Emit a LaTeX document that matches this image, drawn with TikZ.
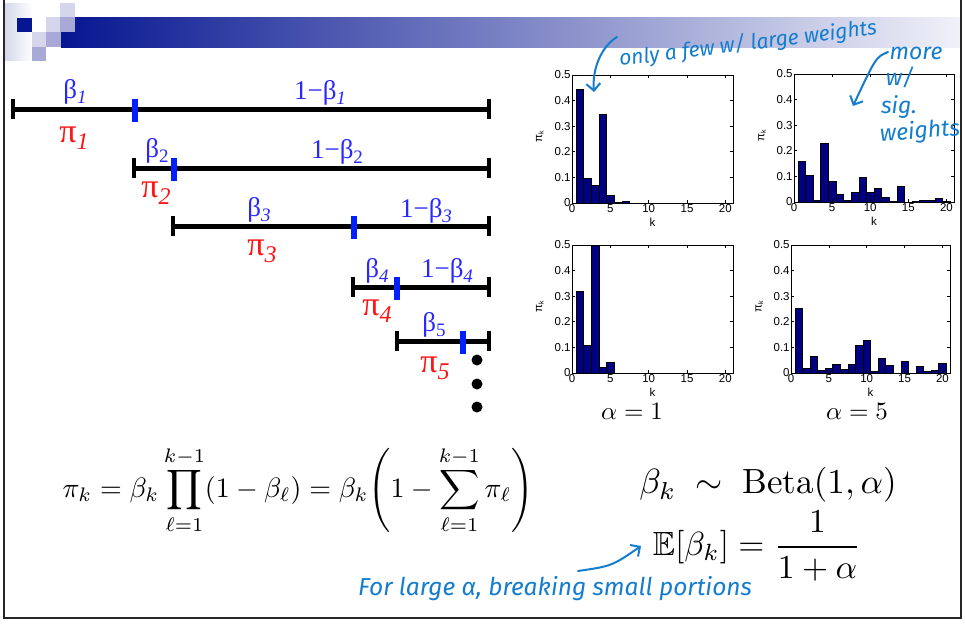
\documentclass[tikz,border=0pt]{standalone}
\usepackage{amsmath,amssymb}
\usepackage{fontspec}
\usetikzlibrary{arrows.meta}
\newfontfamily\tms{Liberation Serif}
\newfontfamily\hlv{Liberation Sans}
\newfontfamily\hand{Fira Sans}
\definecolor{hnavy}{RGB}{6,22,144}
\definecolor{hlight}{RGB}{213,214,235}
\definecolor{hmed}{RGB}{168,169,214}
\definecolor{barnavy}{RGB}{0,0,128}
\definecolor{stickblue}{RGB}{0,32,255}
\definecolor{txtblue}{RGB}{40,40,255}
\definecolor{txtred}{RGB}{255,20,20}
\definecolor{ink}{RGB}{20,125,205}
\newcommand{\gs}[3]{#1\raisebox{-0.22em}{\fontsize{#3}{#3}\selectfont #2}}
\newcommand{\bl}[1]{\gs{β}{#1}{19}}
\newcommand{\pl}[1]{\gs{π}{\itshape #1}{24}}
\newcommand{\hist}[4]{%
\begin{scope}[xshift=#1pt,yshift=-#2pt,x=#3pt,y=256pt]
  \foreach \k/\v in {#4} {\fill[barnavy] ({\k-0.5},0) rectangle ({\k+0.5},\v);
     \draw[baredge] ({\k-0.5},0) rectangle ({\k+0.5},\v);}
  \draw[axisline] (0,0) rectangle (21,0.5);
  \foreach \v in {0.1,0.2,0.3,0.4} {\draw[axisline] (0,\v) -- ++(3pt,0pt); \draw[axisline] (21,\v) -- ++(-3pt,0pt);}
  \foreach \v in {5,10,15,20} {\draw[axisline] (\v,0) -- ++(0pt,3pt); \draw[axisline] (\v,0.5) -- ++(0pt,-3pt);}
  \foreach \v in {0,0.1,0.2,0.3,0.4,0.5} {\node[ticklab,anchor=east] at (0,\v) {\v};}
  \foreach \v in {0,5,10,15,20} {\node[ticklab,anchor=north] at (\v,0) {\v};}
  \node[ticklab] at (10.5,0) [yshift=-19pt] {k};
  \node[ticklab,rotate=90] at (-4.2,0.26) {π\raisebox{-1.5pt}{\fontsize{7}{7}\selectfont k}};
\end{scope}}
\begin{document}
\begin{tikzpicture}[x=1pt,y=-1pt,
  baredge/.style={draw=black,line width=0.5pt},
  axisline/.style={draw=black,line width=0.7pt},
  ticklab/.style={font=\hlv\fontsize{11.5}{11.5}\selectfont,inner sep=1.2pt},
  stick/.style={line width=5pt,black},
  endcap/.style={line width=4.5pt,black},
  brk/.style={line width=5.5pt,stickblue},
  blab/.style={font=\tms\fontsize{27}{30}\selectfont,text=txtblue,anchor=base,inner sep=0pt},
  plab/.style={font=\tms\fontsize{34}{36}\selectfont,text=txtred,anchor=base,inner sep=0pt},
  dot/.style={circle,fill=black,inner sep=0pt,minimum size=11pt},
  hand/.style={font=\hand\itshape\fontsize{21}{23}\selectfont,text=ink,inner sep=0pt},
  handbig/.style={hand,font=\hand\itshape\fontsize{23}{25}\selectfont},
  inkarrow/.style={draw=ink,line width=2pt,line cap=round,-{Straight Barb[length=7pt,width=14pt,line width=2pt]}},
  frameline/.style={draw=black!85,line width=1.3pt}]
\useasboundingbox (0,0) rectangle (965,624);
\fill[white] (0,0) rectangle (965,624);
% header
\shade[left color=hlight,right color=white] (4,3) rectangle (33,60);
\shade[left color=hnavy,right color=white!94!hnavy] (61,17) rectangle (960,47);
\fill[hnavy] (17,18) rectangle (32,32);
\fill[hlight] (60,3) rectangle (75,17);
\fill[hlight] (46,17) rectangle (60,32);
\fill[hmed] (60,17) rectangle (75,32);
\fill[hlight] (32,32) rectangle (46,47);
\fill[hmed] (46,32) rectangle (61,47);
\fill[hmed] (32,47) rectangle (46,61);
\draw[frameline] (4,0) -- (4,618) -- (961,618) -- (961,0);
% sticks
\foreach \n/\a/\m/\y in {1/13/135/109,2/134/174/168,3/173/354/226,4/353/397/287,5/397/463/341}{
  \coordinate (sa\n) at (\a,\y);
  \coordinate (sb\n) at (489,\y);
  \coordinate (sm\n) at (\m,\y);
  \draw[stick] (sa\n) -- (sb\n);
  \draw[endcap] ([yshift=10pt]sa\n) -- ([yshift=-10pt]sa\n);
  \draw[endcap] ([yshift=10pt]sb\n) -- ([yshift=-10pt]sb\n);
  \draw[brk] ([yshift=10pt]sm\n) -- ([yshift=-13pt]sm\n);
}
\node[blab] (b1) at (75,98) {\bl{\itshape 1}};
\node[blab] (c1) at (320,99) {1−\bl{\itshape 1}};
\node[plab] (p1) at (74,142) {\pl{1}};
\node[blab] (b2) at (157,157) {\bl{2}};
\node[blab] (c2) at (337,158) {1−\bl{2}};
\node[plab] (p2) at (156,197) {\pl{2}};
\node[blab] (b3) at (259,216) {\bl{\itshape 3}};
\node[blab] (c3) at (426,217) {1−\bl{\itshape 3}};
\node[plab] (p3) at (262,255) {\pl{3}};
\node[blab] (b4) at (377,277) {\bl{\itshape 4}};
\node[blab] (c4) at (447,277) {1−\bl{\itshape 4}};
\node[plab] (p4) at (377,315) {\pl{4}};
\node[blab] (b5) at (434,331) {\bl{5}};
\node[plab] (p5) at (435,372) {\pl{5}};
\node[dot] (d1) at (477,360) {};
\node[dot] (d2) at (477,384) {};
\node[dot] (d3) at (477,407) {};
% histograms
\hist{572}{203}{7.667}{1/0.445,2/0.097,3/0.068,4/0.345,5/0.03,6/0.002,7/0.005}
\hist{794}{202}{7.62}{1/0.16,2/0.105,3/0.008,4/0.23,5/0.08,6/0.03,7/0.008,8/0.037,9/0.097,10/0.037,11/0.055,12/0.02,13/0.003,14/0.062,16/0.002,17/0.008,18/0.008,19/0.013,20/0.002}
\hist{572}{373}{7.667}{1/0.32,2/0.107,3/0.5,4/0.022,5/0.043}
\hist{791}{373}{7.57}{1/0.253,2/0.017,3/0.065,4/0.01,5/0.018,6/0.035,7/0.013,8/0.035,9/0.107,10/0.128,11/0.005,12/0.057,13/0.032,15/0.047,17/0.025,18/0.005,19/0.01,20/0.04}
\node[scale=2.5] (a1) at (632,411) {$\alpha = 1$};
\node[scale=2.5] (a5) at (857,411) {$\alpha = 5$};
% formulas
\node[scale=2.8] (pieq) at (298,490) {$\displaystyle \pi_k = \beta_k \prod_{\ell=1}^{k-1}(1-\beta_\ell) = \beta_k\!\left(1-\sum_{\ell=1}^{k-1}\pi_\ell\right)$};
\node[scale=3.5] (betaeq) at (768,485) {$\beta_k \;\sim\; \mathrm{Beta}(1,\alpha)$};
\node[scale=3.35] (expeq) at (757,546) {$\displaystyle\mathbb{E}[\beta_k] = \frac{1}{1+\alpha}$};
% handwritten annotations
\node[hand,rotate=7] (only) at (748,44) {only a few w/ large weights};
\node[handbig] (more) at (916,53) {more};
\node[handbig] (wsl) at (900,77) {w/};
\node[handbig] (sig) at (899,107) {sig.};
\node[handbig,rotate=4] (wts) at (920,132) {weights};
\node[hand,font=\hand\itshape\fontsize{24.5}{26}\selectfont] (forl) at (555,589) {For large α, breaking small portions};
\coordinate (sA) at (617,37);
\coordinate (tA) at (594,92);
\draw[inkarrow] (sA) .. controls (602,46) and (592,68) .. (tA);
\coordinate (sB) at (888,52);
\coordinate (tB) at (853,106);
\draw[inkarrow] (sB) .. controls (876,57) .. (tB);
\coordinate (sC) at (578,571);
\draw[inkarrow] (sC) .. controls (612,566) .. (expeq.west);
\end{tikzpicture}
\end{document}
